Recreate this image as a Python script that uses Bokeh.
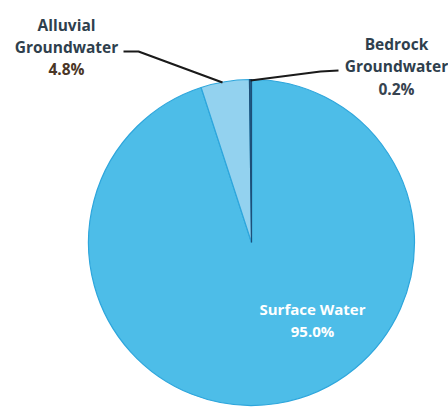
import math
from bokeh.plotting import figure
from bokeh.models import Range1d, ColumnDataSource
from bokeh.core.properties import value
from bokeh.embed import file_html
from bokeh.resources import INLINE

# Data
categories = ["Surface Water", "Alluvial Groundwater", "Bedrock Groundwater"]
shares = [95.0, 4.8, 0.2]
colors = ["#4dbde8", "#93d2ef", "#1d5f8c"]

W, H = 448, 407
p = figure(width=W, height=H, output_backend="svg", toolbar_location=None,
           x_range=Range1d(0, W), y_range=Range1d(0, H), min_border=0)
p.axis.visible = False
p.grid.visible = False
p.outline_line_color = None
p.background_fill_color = "white"
p.border_fill_color = "white"

cx, cy, r = 251, H - 242, 163

total = sum(shares)
starts, ends = [], []
acc = 0.0
for s in shares:
    starts.append(math.pi / 2 - 2 * math.pi * acc / total)
    acc += s
    ends.append(math.pi / 2 - 2 * math.pi * acc / total)

src = ColumnDataSource(dict(start=starts, end=ends, color=colors,
                            line=["#2ea6dc", "#2ea6dc", "#1d4f78"]))
p.wedge(x=cx, y=cy, radius=r, start_angle="start", end_angle="end",
        direction="clock", fill_color="color", line_color="line",
        line_width=1.2, source=src)

# Leader lines
p.line(x=[123, 138, 222], y=[H - 51, H - 51, H - 82], line_color="#1a1a1a", line_width=2.2)
p.line(x=[338, 320, 250], y=[H - 70, H - 71, H - 80], line_color="#1a1a1a", line_width=2.2)

font = value("Open Sans")
name_color = "#2f3f4d"
fs = "15.5px"

def pct(v):
    return f"{v:.1f}%"

# Alluvial label
p.text(x=[66, 66], y=[H - 24, H - 46], text=["Alluvial", "Groundwater"],
       text_font=font, text_font_style="bold", text_font_size=fs,
       text_color=name_color, text_align="center", text_baseline="middle")
p.text(x=[66], y=[H - 68], text=[pct(shares[1])],
       text_font=font, text_font_style="bold", text_font_size=fs,
       text_color="#4a3626", text_align="center", text_baseline="middle")

# Bedrock label
p.text(x=[396, 396], y=[H - 43, H - 65], text=["Bedrock", "Groundwater"],
       text_font=font, text_font_style="bold", text_font_size=fs,
       text_color=name_color, text_align="center", text_baseline="middle")
p.text(x=[396], y=[H - 88], text=[pct(shares[2])],
       text_font=font, text_font_style="bold", text_font_size=fs,
       text_color="#36434f", text_align="center", text_baseline="middle")

# Surface water label
p.text(x=[312, 312], y=[H - 308, H - 330], text=[categories[0], pct(shares[0])],
       text_font=font, text_font_style="bold", text_font_size="15px",
       text_color="white", text_align="center", text_baseline="middle")

open("out.html", "w").write(file_html(p, INLINE))
